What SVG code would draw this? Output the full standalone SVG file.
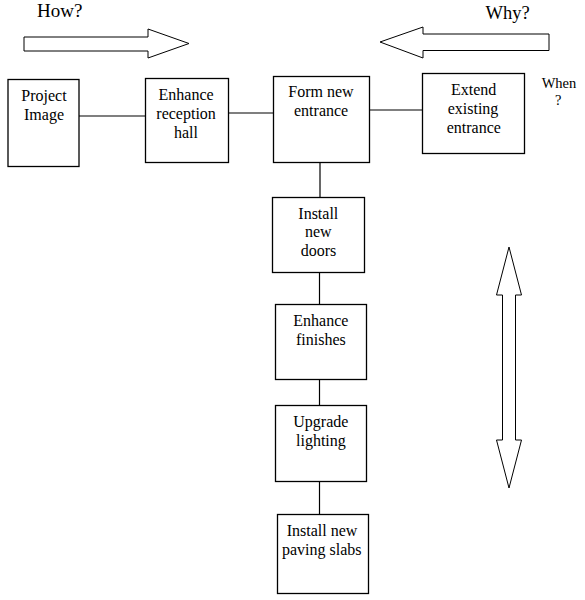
<svg xmlns="http://www.w3.org/2000/svg" width="585" height="600" viewBox="0 0 585 600">
<style>
.box{fill:#fff;stroke:#000;stroke-width:1.3}
.lbl{font-family:"Liberation Serif","Times New Roman",serif;font-size:16px;fill:#000}
.hd{font-family:"Liberation Serif","Times New Roman",serif;font-size:19px;fill:#000}
.wh{font-family:"Liberation Serif","Times New Roman",serif;font-size:14.5px;fill:#000}
.arr{fill:#fff;stroke:#000;stroke-width:1}
.c{stroke:#000;stroke-width:1.2;fill:none}
</style>
<rect width="585" height="600" fill="#fff"/>
<text class="hd" x="37" y="16.5">How?</text>
<text class="hd" x="485.5" y="18.5" style="font-size:18.5px">Why?</text>
<polygon class="arr" points="24,37 148,37 148,29 189,43.5 148,58 148,51 24,51"/>
<polygon class="arr" points="549,34 423,34 423,27 380,42 423,58 423,50.5 549,50.5"/>
<polygon class="arr" points="509,247 521.5,295 515.5,295 515.5,440 521.5,440 509,488 496.5,440 502.5,440 502.5,295 496.5,295"/>
<text class="wh" x="541.7" y="88">When</text>
<text class="wh" x="555" y="105">?</text>
<g id="connectors">
<line class="c" x1="79" y1="116" x2="145" y2="116"/>
<line class="c" x1="228" y1="113" x2="273" y2="113"/>
<line class="c" x1="369" y1="110" x2="422" y2="110"/>
<line class="c" x1="320" y1="162" x2="320" y2="197"/>
<line class="c" x1="319.5" y1="272" x2="319.5" y2="304"/>
<line class="c" x1="319.5" y1="379" x2="319.5" y2="405"/>
<line class="c" x1="319.5" y1="481" x2="319.5" y2="514"/>
</g>
<g id="project-image">
<rect class="box" x="8" y="79.5" width="71" height="87"/>
<text class="lbl" x="21.3" y="101">Project</text>
<text class="lbl" x="24" y="120">Image</text>
</g>
<g id="enhance-reception-hall">
<rect class="box" x="145.5" y="78.5" width="83" height="84"/>
<text class="lbl" x="158.5" y="100">Enhance</text>
<text class="lbl" x="156.3" y="118.5">reception</text>
<text class="lbl" x="174" y="138">hall</text>
</g>
<g id="form-new-entrance">
<rect class="box" x="273.5" y="76.5" width="96" height="86"/>
<text class="lbl" x="288.3" y="97">Form new</text>
<text class="lbl" x="294" y="115.5">entrance</text>
</g>
<g id="extend-existing-entrance">
<rect class="box" x="422.5" y="73.5" width="102" height="80"/>
<text class="lbl" x="451" y="95">Extend</text>
<text class="lbl" x="447.7" y="113.5">existing</text>
<text class="lbl" x="446.7" y="133">entrance</text>
</g>
<g id="install-new-doors">
<rect class="box" x="272.5" y="197.5" width="92" height="75"/>
<text class="lbl" x="298.3" y="218.5">Install</text>
<text class="lbl" x="305" y="237">new</text>
<text class="lbl" x="300.7" y="256">doors</text>
</g>
<g id="enhance-finishes">
<rect class="box" x="275.5" y="304.5" width="91" height="75"/>
<text class="lbl" x="293.3" y="326">Enhance</text>
<text class="lbl" x="296" y="345">finishes</text>
</g>
<g id="upgrade-lighting">
<rect class="box" x="275.5" y="405.5" width="91" height="76"/>
<text class="lbl" x="293.3" y="427">Upgrade</text>
<text class="lbl" x="296" y="445.5">lighting</text>
</g>
<g id="install-new-paving-slabs">
<rect class="box" x="277.5" y="514.5" width="91" height="79"/>
<text class="lbl" x="286.7" y="536">Install new</text>
<text class="lbl" x="282" y="555">paving slabs</text>
</g>
</svg>
